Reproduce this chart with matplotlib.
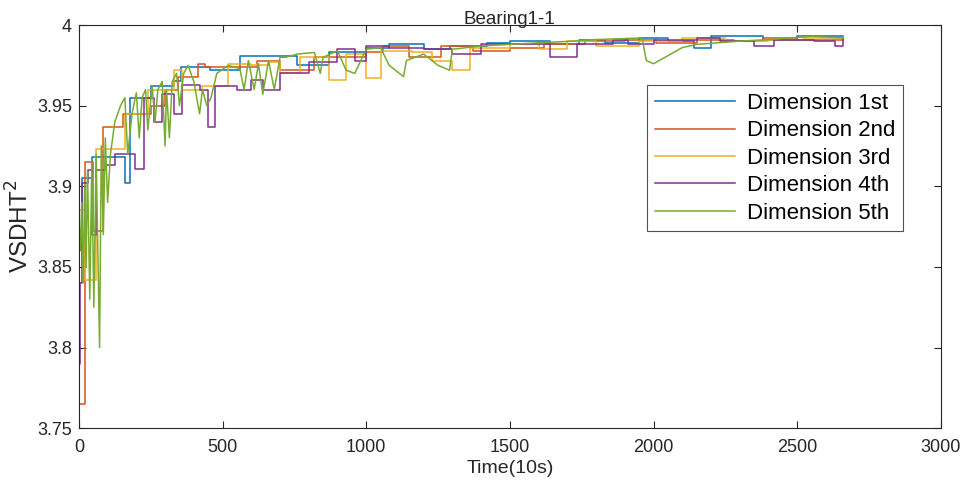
import matplotlib
matplotlib.use("Agg")
import matplotlib.pyplot as plt

plt.rcParams["font.family"] = ["Liberation Sans", "DejaVu Sans"]

# ─────────────────────────────────────────────
# DATA (breakpoints)
# ─────────────────────────────────────────────
dim1_t = [0, 12, 45, 160, 178, 250, 330, 355, 455, 560, 700, 760, 870, 1000,
          1080, 1200, 1290, 1420, 1500, 1640, 1740, 1830, 1950, 2050, 2140,
          2200, 2380, 2500, 2660]
dim1_v = [3.862, 3.905, 3.918, 3.902, 3.955, 3.962, 3.965, 3.974, 3.972, 3.981,
          3.981, 3.975, 3.983, 3.986, 3.988, 3.985, 3.987, 3.989, 3.990, 3.988,
          3.991, 3.989, 3.992, 3.990, 3.986, 3.993, 3.991, 3.993, 3.993]

dim2_t = [0, 20, 48, 83, 155, 250, 300, 345, 415, 440, 520, 620, 700, 820,
          1000, 1060, 1150, 1260, 1370, 1500, 1620, 1760, 1900, 2010, 2150,
          2280, 2380, 2500, 2660]
dim2_v = [3.765, 3.915, 3.872, 3.937, 3.945, 3.950, 3.960, 3.968, 3.976, 3.974,
          3.974, 3.978, 3.972, 3.980, 3.983, 3.987, 3.980, 3.987, 3.984, 3.986,
          3.988, 3.990, 3.991, 3.989, 3.991, 3.990, 3.992, 3.991, 3.991]

dim3_t = [0, 20, 58, 160, 240, 330, 360, 430, 520, 600, 660, 700, 770, 870,
          930, 1000, 1050, 1160, 1230, 1300, 1360, 1500, 1600, 1700, 1800,
          1950, 2100, 2250, 2400, 2520, 2660]
dim3_v = [3.885, 3.842, 3.923, 3.945, 3.960, 3.972, 3.960, 3.962, 3.976, 3.975,
          3.977, 3.970, 3.980, 3.966, 3.982, 3.967, 3.984, 3.983, 3.978, 3.972,
          3.986, 3.988, 3.985, 3.990, 3.987, 3.990, 3.992, 3.990, 3.991, 3.992,
          3.992]

dim4_t = [0, 4, 10, 30, 45, 60, 90, 125, 195, 228, 260, 290, 330, 360, 420,
          450, 475, 550, 600, 640, 700, 800, 900, 960, 1000, 1080, 1200, 1300,
          1400, 1640, 1735, 1860, 1910, 2000, 2150, 2230, 2350, 2420, 2560,
          2630, 2660]
dim4_v = [3.790, 3.840, 3.902, 3.910, 3.870, 3.910, 3.913, 3.920, 3.911, 3.955,
          3.940, 3.957, 3.945, 3.963, 3.960, 3.937, 3.962, 3.960, 3.966, 3.960,
          3.970, 3.977, 3.985, 3.978, 3.987, 3.986, 3.985, 3.982, 3.988, 3.980,
          3.988, 3.991, 3.988, 3.991, 3.992, 3.990, 3.987, 3.991, 3.990, 3.987,
          3.992]

dim5_t = [0, 5, 10, 15, 20, 25, 30, 38, 45, 52, 60, 66, 72, 78, 85, 92, 100,
          110, 125, 145, 160, 170, 185, 200, 210, 220, 232, 240, 255, 265, 275,
          290, 300, 305, 315, 325, 340, 350, 365, 380, 400, 420, 430, 445, 460,
          480, 520, 560, 575, 590, 610, 625, 640, 660, 680, 700, 720, 760, 820,
          840, 850, 900, 930, 960, 1000, 1050, 1080, 1130, 1140, 1200, 1250,
          1290, 1300, 1400, 1500, 1600, 1720, 1800, 1960, 1975, 2000, 2100,
          2150, 2300, 2400, 2550, 2660]
dim5_v = [3.880, 3.860, 3.890, 3.840, 3.900, 3.850, 3.910, 3.830, 3.915, 3.825,
          3.920, 3.860, 3.800, 3.925, 3.870, 3.930, 3.890, 3.920, 3.940, 3.950,
          3.955, 3.920, 3.945, 3.958, 3.930, 3.955, 3.960, 3.935, 3.962, 3.940,
          3.960, 3.965, 3.925, 3.960, 3.930, 3.965, 3.970, 3.950, 3.970, 3.975,
          3.965, 3.945, 3.960, 3.950, 3.955, 3.970, 3.975, 3.973, 3.960, 3.978,
          3.960, 3.976, 3.957, 3.978, 3.960, 3.980, 3.980, 3.982, 3.983, 3.970,
          3.980, 3.984, 3.972, 3.970, 3.985, 3.986, 3.975, 3.968, 3.978, 3.982,
          3.975, 3.972, 3.985, 3.987, 3.988, 3.989, 3.990, 3.991, 3.992, 3.978,
          3.976, 3.986, 3.988, 3.990, 3.991, 3.993, 3.992]

labels = ["Dimension 1st", "Dimension 2nd", "Dimension 3rd",
          "Dimension 4th", "Dimension 5th"]
colors = ["#0072BD", "#D95319", "#EDB120", "#7E2F8E", "#77AC30"]

# ─────────────────────────────────────────────
# DRAW
# ─────────────────────────────────────────────
fig = plt.figure(figsize=(9.62, 4.91), dpi=100)
ax = fig.add_axes([0.082, 0.128, 0.896, 0.821])

steps = [(dim1_t, dim1_v), (dim2_t, dim2_v), (dim3_t, dim3_v), (dim4_t, dim4_v)]
for (t, v), lab, c in zip(steps, labels[:4], colors[:4]):
    ax.step(t, v, where="post", color=c, lw=1.1, label=lab)

# last dimension is a sawtooth, not a step
ax.plot(dim5_t, dim5_v, color=colors[4], lw=1.1, label=labels[4])

ax.set_xlim(0, 3000)
ax.set_ylim(3.75, 4.0)
ax.set_xticks([0, 500, 1000, 1500, 2000, 2500, 3000])
ax.set_yticks([3.75, 3.8, 3.85, 3.9, 3.95, 4.0])
ax.set_yticklabels(["3.75", "3.8", "3.85", "3.9", "3.95", "4"])

ax.tick_params(direction="in", top=True, right=True, labelsize=13,
               colors="#262626", length=5, pad=5)
ax.tick_params(axis="x", pad=8)
for s in ax.spines.values():
    s.set_color("#262626")
    s.set_linewidth(0.8)

ax.set_xlabel("Time(10s)", fontsize=14, color="#262626", labelpad=3)
ax.set_ylabel("VSDHT$^2$", fontsize=17.5, color="#262626")
ax.yaxis.set_label_coords(-0.052, 0.5)
ax.set_title("Bearing1-1", fontsize=13.5, color="#262626", pad=1)

leg = ax.legend(loc="upper right", bbox_to_anchor=(0.956, 0.851),
                fontsize=16, handlelength=3.6, frameon=True, fancybox=False,
                borderpad=0.35, labelspacing=0.29, handletextpad=0.55,
                borderaxespad=0)
leg.get_frame().set_edgecolor("#262626")
leg.get_frame().set_linewidth(0.8)

plt.savefig("out.png", dpi=100)
